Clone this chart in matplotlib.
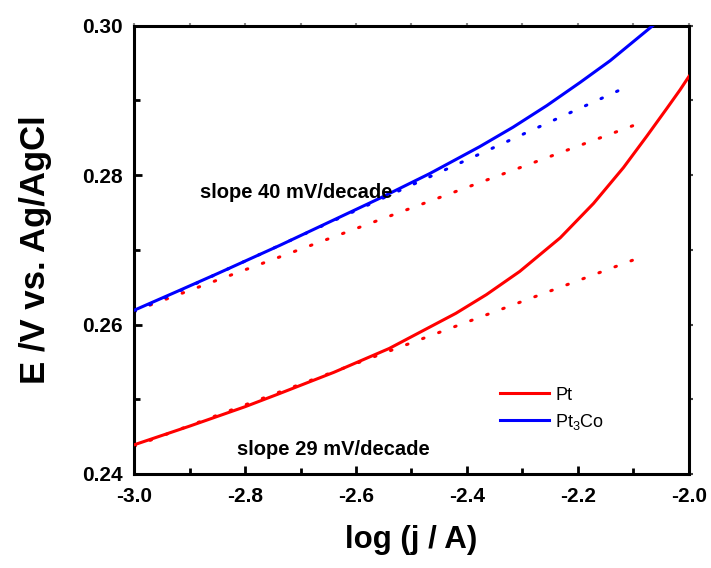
import matplotlib
matplotlib.use("Agg")
import matplotlib.pyplot as plt
from matplotlib.ticker import MultipleLocator, FormatStrFormatter

plt.rcParams['font.family'] = ['Liberation Sans', 'DejaVu Sans']
plt.rcParams['mathtext.default'] = 'regular'

# Pt measured polarisation curve
pt_x = [-3.0, -2.9, -2.8, -2.74, -2.64, -2.54, -2.42, -2.365, -2.305, -2.232, -2.172, -2.118, -2.076, -2.040, -2.016, -2.0]
pt_y = [0.2439, 0.2464, 0.2490, 0.2507, 0.2536, 0.2568, 0.2615, 0.2640, 0.2671, 0.2716, 0.2762, 0.2810, 0.2852, 0.2889, 0.2914, 0.2932]
# Pt3Co measured polarisation curve
co_x = [-3.0, -2.917, -2.85, -2.737, -2.677, -2.557, -2.467, -2.377, -2.317, -2.256, -2.196, -2.142, -2.065]
co_y = [0.2619, 0.2646, 0.2668, 0.2706, 0.2727, 0.2769, 0.2802, 0.2838, 0.2864, 0.2893, 0.2924, 0.2953, 0.3000]
# Tafel fit lines (dotted)
pt_fit_x = [-3.0, -2.08]
pt_fit_y = [0.2437, 0.2692]
pt_fit2_x = [-3.0, -2.083]
pt_fit2_y = [0.2618, 0.2871]
co_fit_x = [-3.0, -2.118]
co_fit_y = [0.2617, 0.2916]

labels = ['Pt', 'Pt$_3$Co']
colors = ['#ff0000', '#0000ff']

fig = plt.figure(figsize=(7.11, 5.68), dpi=100)
ax = fig.add_axes([0.1885, 0.1655, 0.7805, 0.7895])

lw = 2.2
dots = (0, (0.5, 5.1))
l1, = ax.plot(pt_x, pt_y, color=colors[0], lw=lw, label=labels[0], zorder=3)
l2, = ax.plot(co_x, co_y, color=colors[1], lw=lw, label=labels[1], zorder=3)
for fx, fy, c in [(pt_fit_x, pt_fit_y, colors[0]), (pt_fit2_x, pt_fit2_y, colors[0]), (co_fit_x, co_fit_y, colors[1])]:
    ax.plot(fx, fy, color=c, lw=lw, linestyle=dots, dash_capstyle='round', zorder=2)

ax.set_xlim(-3.0, -2.0)
ax.set_ylim(0.24, 0.30)
ax.xaxis.set_major_locator(MultipleLocator(0.2))
ax.xaxis.set_minor_locator(MultipleLocator(0.1))
ax.yaxis.set_major_locator(MultipleLocator(0.02))
ax.yaxis.set_minor_locator(MultipleLocator(0.01))
ax.xaxis.set_major_formatter(FormatStrFormatter('%.1f'))
ax.yaxis.set_major_formatter(FormatStrFormatter('%.2f'))

for s in ax.spines.values():
    s.set_linewidth(2.2)
ax.tick_params(which='both', direction='in', width=2.0, top=False, right=False,
               labelsize=15)
ax.tick_params(axis='x', pad=9.4)
ax.tick_params(axis='y', pad=8)
ax.tick_params(which='major', length=6)
ax.tick_params(which='minor', length=4)
for t in ax.get_xticklabels() + ax.get_yticklabels():
    t.set_fontweight('bold')

# faint short ticks on top and right spines
sx = ax.secondary_xaxis('top')
sx.xaxis.set_major_locator(MultipleLocator(0.1))
sx.tick_params(direction='out', length=2, width=1.5, colors='#888888', labeltop=False)
sx.spines['top'].set_visible(False)
sy = ax.secondary_yaxis('right')
sy.yaxis.set_major_locator(MultipleLocator(0.01))
sy.tick_params(direction='out', length=3, width=1.5, colors='#444444', labelright=False)
sy.spines['right'].set_visible(False)

ax.set_xlabel('log (j / A)', fontsize=22.5, fontweight='bold', labelpad=14)
ax.set_ylabel('E /V vs. Ag/AgCl', fontsize=25, fontweight='bold', labelpad=22)

ax.text(-2.881, 0.2777, 'slope 40 mV/decade', fontsize=14.5, fontweight='bold', va='center', ha='left')
ax.text(-2.814, 0.2433, 'slope 29 mV/decade', fontsize=14.5, fontweight='bold', va='center', ha='left')

ax.legend(handles=[l1, l2], loc='upper left', bbox_to_anchor=(0.66, 0.195), frameon=False,
          fontsize=13, handlelength=2.7, handletextpad=0.35, labelspacing=0.45,
          borderpad=0, borderaxespad=0)

fig.savefig('out.png', dpi=100)
